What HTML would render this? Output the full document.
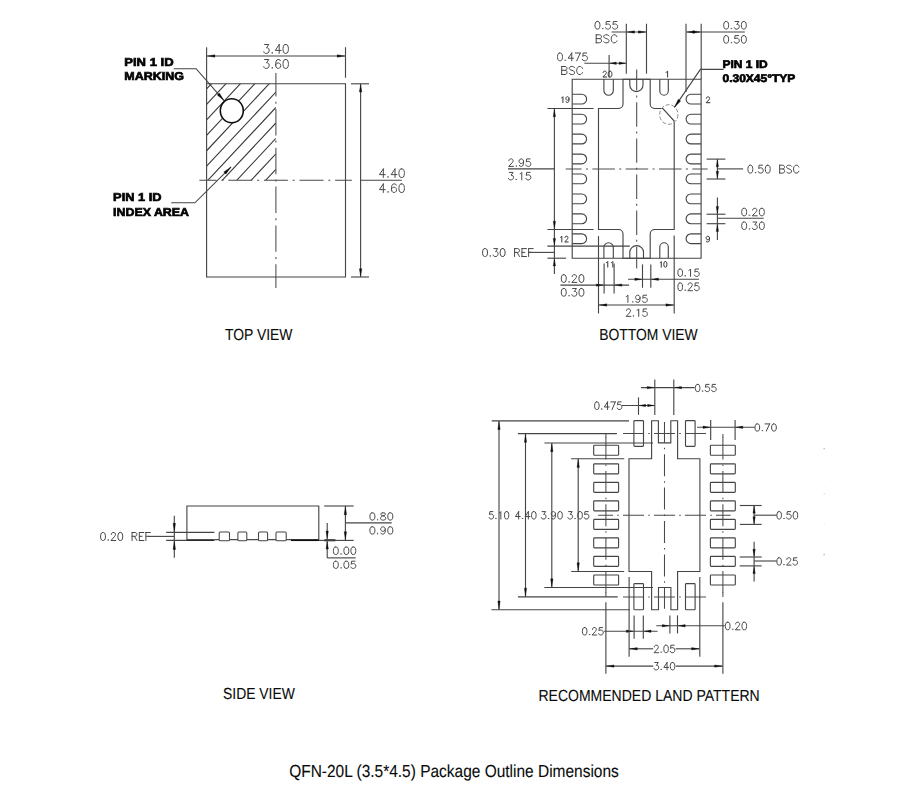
<!DOCTYPE html>
<html><head><meta charset="utf-8"><title>QFN-20L (3.5*4.5) Package Outline Dimensions</title>
<style>
html,body{margin:0;padding:0;background:#fff;}
body{width:902px;height:809px;overflow:hidden;font-family:"Liberation Sans",sans-serif;}
svg{display:block;}
.l{fill:none;stroke:#444;stroke-width:1.12;}
.c{fill:none;stroke:#4a4a4a;stroke-width:1.05;}
.g{fill:none;stroke:#999;stroke-width:0.9;}
.k{fill:none;stroke:#111;stroke-width:1.9;}
.h{fill:none;stroke:#3a3a3a;stroke-width:1.1;}
.a{fill:#111;stroke:#111;stroke-width:0.3;}
.t{fill:none;stroke:#474747;stroke-width:1.0;stroke-linecap:round;stroke-linejoin:round;}
.ts{fill:none;stroke:#333;stroke-width:1.0;stroke-linecap:round;stroke-linejoin:round;}
.b{text-rendering:geometricPrecision;font-family:"Liberation Sans",sans-serif;font-weight:bold;font-size:11.4px;fill:#000;stroke:#000;stroke-width:0.66;}
.v{text-rendering:geometricPrecision;font-family:"Liberation Sans",sans-serif;font-size:16px;fill:#0a0a0a;stroke:#0a0a0a;stroke-width:0.1;}
.cap{text-rendering:geometricPrecision;font-family:"Liberation Sans",sans-serif;font-size:17.4px;fill:#0a0a0a;stroke:#0a0a0a;stroke-width:0.1;}
</style></head>
<body>
<svg width="902" height="809" viewBox="0 0 902 809">
<rect x="0" y="0" width="902" height="809" fill="#fff"/>
<filter id="soft" x="0" y="0" width="902" height="809" filterUnits="userSpaceOnUse"><feGaussianBlur stdDeviation="0.38"/></filter>
<g filter="url(#soft)">
<!-- TOP VIEW -->
<clipPath id="hc"><rect x="206.60" y="83.80" width="69.30" height="96.50"/></clipPath>
<path class="h" clip-path="url(#hc)" d="M206.60 88.95L275.90 14.80M206.60 104.40L275.90 30.25M206.60 119.85L275.90 45.70M206.60 135.30L275.90 61.15M206.60 150.75L275.90 76.60M206.60 166.20L275.90 92.05M206.60 181.65L275.90 107.50M206.60 197.10L275.90 122.95M206.60 212.55L275.90 138.40M206.60 228.00L275.90 153.85M206.60 243.45L275.90 169.30M206.60 258.90L275.90 184.75"/>
<path class="l" d="M206.60 83.80H345.50V277.00H206.60Z"/>
<ellipse cx="231.8" cy="110.7" rx="11.5" ry="12.0" fill="#fff" stroke="#111" stroke-width="1.6"/>
<path class="l" d="M206.60 47.20L206.60 83.80"/>
<path class="l" d="M345.50 47.20L345.50 77.80"/>
<path class="l" d="M206.60 56.00L345.50 56.00"/>
<path class="a" d="M207.50 56.00L214.90 54.70L214.90 57.30Z"/>
<path class="a" d="M344.60 56.00L337.20 57.30L337.20 54.70Z"/>
<path class="t" d="M264.57 44.50L268.80 44.50L266.49 47.89L267.64 47.89L268.41 48.31L268.80 48.74L269.18 50.01L269.18 50.86L268.80 52.13L268.03 52.98L266.87 53.40L265.72 53.40L264.57 52.98L264.18 52.55L263.80 51.70M272.26 52.55L271.87 52.98L272.26 53.40L272.64 52.98L272.26 52.55M279.18 44.50L275.33 50.43L281.10 50.43M279.18 44.50L279.18 53.40M285.33 44.50L284.17 44.92L283.40 46.20L283.02 48.31L283.02 49.59L283.40 51.70L284.17 52.98L285.33 53.40L286.09 53.40L287.25 52.98L288.02 51.70L288.40 49.59L288.40 48.31L288.02 46.20L287.25 44.92L286.09 44.50L285.33 44.50"/>
<path class="t" d="M264.57 59.50L268.80 59.50L266.49 62.89L267.64 62.89L268.41 63.31L268.80 63.74L269.18 65.01L269.18 65.86L268.80 67.13L268.03 67.98L266.87 68.40L265.72 68.40L264.57 67.98L264.18 67.55L263.80 66.70M272.26 67.55L271.87 67.98L272.26 68.40L272.64 67.98L272.26 67.55M280.33 60.77L279.94 59.92L278.79 59.50L278.02 59.50L276.87 59.92L276.10 61.20L275.72 63.31L275.72 65.43L276.10 67.13L276.87 67.98L278.02 68.40L278.41 68.40L279.56 67.98L280.33 67.13L280.71 65.86L280.71 65.43L280.33 64.16L279.56 63.31L278.41 62.89L278.02 62.89L276.87 63.31L276.10 64.16L275.72 65.43M285.33 59.50L284.17 59.92L283.40 61.20L283.02 63.31L283.02 64.59L283.40 66.70L284.17 67.98L285.33 68.40L286.09 68.40L287.25 67.98L288.02 66.70L288.40 64.59L288.40 63.31L288.02 61.20L287.25 59.92L286.09 59.50L285.33 59.50"/>
<path class="c" d="M275.90 73.00L275.90 96.60M275.90 101.80L275.90 103.80M275.90 109.00L275.90 135.40M275.90 140.60L275.90 142.60M275.90 147.80L275.90 174.20M275.90 179.40L275.90 181.40M275.90 186.60L275.90 213.00M275.90 218.20L275.90 220.20M275.90 225.40L275.90 251.80M275.90 257.00L275.90 259.00M275.90 264.20L275.90 288.00"/>
<path class="c" d="M199.40 180.30L216.70 180.30M221.50 180.30L223.50 180.30M228.30 180.30L252.30 180.30M257.10 180.30L259.10 180.30M263.90 180.30L287.90 180.30M292.70 180.30L294.70 180.30M299.50 180.30L323.50 180.30M328.30 180.30L330.30 180.30M335.10 180.30L351.90 180.30"/>
<path class="l" d="M351.00 83.80L369.00 83.80"/>
<path class="l" d="M351.00 277.00L369.00 277.00"/>
<path class="l" d="M360.60 83.80L360.60 277.00"/>
<path class="a" d="M360.60 84.70L361.90 92.10L359.30 92.10Z"/>
<path class="a" d="M360.60 276.10L359.30 268.70L361.90 268.70Z"/>
<path class="l" d="M360.60 180.30L401.80 180.30"/>
<path class="t" d="M383.31 168.90L379.40 174.63L385.26 174.63M383.31 168.90L383.31 177.50M387.99 176.68L387.60 177.09L387.99 177.50L388.38 177.09L387.99 176.68M395.03 168.90L391.12 174.63L396.98 174.63M395.03 168.90L395.03 177.50M401.28 168.90L400.10 169.31L399.32 170.54L398.93 172.59L398.93 173.81L399.32 175.86L400.10 177.09L401.28 177.50L402.06 177.50L403.23 177.09L404.01 175.86L404.40 173.81L404.40 172.59L404.01 170.54L403.23 169.31L402.06 168.90L401.28 168.90"/>
<path class="t" d="M383.31 183.90L379.40 189.63L385.26 189.63M383.31 183.90L383.31 192.50M387.99 191.68L387.60 192.09L387.99 192.50L388.38 192.09L387.99 191.68M396.20 185.13L395.81 184.31L394.63 183.90L393.85 183.90L392.68 184.31L391.90 185.54L391.51 187.59L391.51 189.63L391.90 191.27L392.68 192.09L393.85 192.50L394.24 192.50L395.42 192.09L396.20 191.27L396.59 190.04L396.59 189.63L396.20 188.40L395.42 187.59L394.24 187.18L393.85 187.18L392.68 187.59L391.90 188.40L391.51 189.63M401.28 183.90L400.10 184.31L399.32 185.54L398.93 187.59L398.93 188.81L399.32 190.86L400.10 192.09L401.28 192.50L402.06 192.50L403.23 192.09L404.01 190.86L404.40 188.81L404.40 187.59L404.01 185.54L403.23 184.31L402.06 183.90L401.28 183.90"/>
<path class="l" d="M173.7 68.7H196.1L224.1 100.7"/>
<path class="a" d="M223.77 100.32L217.11 94.99L219.37 93.01Z"/>
<path class="l" d="M171.2 202.8H194.9L231.1 166.8"/>
<path class="a" d="M230.75 167.15L225.85 174.14L223.73 172.01Z"/>
<text class="b" x="124.3" y="66.2" textLength="49.3" lengthAdjust="spacingAndGlyphs">PIN 1 ID</text>
<text class="b" x="124.3" y="80.1" textLength="59.6" lengthAdjust="spacingAndGlyphs">MARKING</text>
<text class="b" x="113.1" y="201.0" textLength="48.5" lengthAdjust="spacingAndGlyphs">PIN 1 ID</text>
<text class="b" x="113.1" y="216.0" textLength="75.9" lengthAdjust="spacingAndGlyphs">INDEX AREA</text>
<!-- BOTTOM VIEW -->
<path class="l" d="M572.20 79.30H701.10V258.20H572.20Z"/>
<path class="l" d="M598.50 108.50H618.60A4.40 4.40 0 0 0 623.00 104.10V79.30H650.20V104.10A4.40 4.40 0 0 0 654.60 108.50H662.9L674.20 121.0V229.50H654.60A4.40 4.40 0 0 0 650.20 233.90V258.20H623.00V233.90A4.40 4.40 0 0 0 618.60 229.50H598.50Z"/>
<path class="l" d="M629.8 79.30V85.0A6.6 6.6 0 0 0 643.0 85.0V79.30"/>
<path class="l" d="M629.8 258.20V252.3A6.85 6.7 0 0 1 643.5 252.3V258.20"/>
<path class="l" d="M603.90 79.30V90.50A4.70 4.70 0 0 0 613.30 90.50V79.30"/>
<path class="l" d="M603.90 258.20V247.50A4.70 4.70 0 0 1 613.30 247.50V258.20"/>
<path class="l" d="M659.80 79.30V90.95A4.25 4.25 0 0 0 668.30 90.95V79.30"/>
<path class="l" d="M659.80 258.20V247.05A4.25 4.25 0 0 1 668.30 247.05V258.20"/>
<path class="l" d="M572.20 94.25H581.70A4.90 4.90 0 0 1 581.70 104.05H572.20"/>
<path class="l" d="M701.10 94.25H691.00A4.90 4.90 0 0 0 691.00 104.05H701.10"/>
<path class="l" d="M572.20 114.19H581.70A4.90 4.90 0 0 1 581.70 123.99H572.20"/>
<path class="l" d="M701.10 114.19H691.00A4.90 4.90 0 0 0 691.00 123.99H701.10"/>
<path class="l" d="M572.20 134.13H581.70A4.90 4.90 0 0 1 581.70 143.93H572.20"/>
<path class="l" d="M701.10 134.13H691.00A4.90 4.90 0 0 0 691.00 143.93H701.10"/>
<path class="l" d="M572.20 154.07H581.70A4.90 4.90 0 0 1 581.70 163.87H572.20"/>
<path class="l" d="M701.10 154.07H691.00A4.90 4.90 0 0 0 691.00 163.87H701.10"/>
<path class="l" d="M572.20 174.01H581.70A4.90 4.90 0 0 1 581.70 183.81H572.20"/>
<path class="l" d="M701.10 174.01H691.00A4.90 4.90 0 0 0 691.00 183.81H701.10"/>
<path class="l" d="M572.20 193.95H581.70A4.90 4.90 0 0 1 581.70 203.75H572.20"/>
<path class="l" d="M701.10 193.95H691.00A4.90 4.90 0 0 0 691.00 203.75H701.10"/>
<path class="l" d="M572.20 213.89H581.70A4.90 4.90 0 0 1 581.70 223.69H572.20"/>
<path class="l" d="M701.10 213.89H691.00A4.90 4.90 0 0 0 691.00 223.69H701.10"/>
<path class="l" d="M572.20 233.83H581.70A4.90 4.90 0 0 1 581.70 243.63H572.20"/>
<path class="l" d="M701.10 233.83H691.00A4.90 4.90 0 0 0 691.00 243.63H701.10"/>
<ellipse cx="668.8" cy="114.5" rx="9.2" ry="9.8" fill="none" stroke="#8a8a8a" stroke-width="1.0" stroke-dasharray="4.0 1.9"/>
<path class="c" d="M636.70 69.40L636.70 90.60M636.70 95.45L636.70 97.45M636.70 102.30L636.70 126.70M636.70 131.55L636.70 133.55M636.70 138.40L636.70 162.80M636.70 167.65L636.70 169.65M636.70 174.50L636.70 198.90M636.70 203.75L636.70 205.75M636.70 210.60L636.70 235.00M636.70 239.85L636.70 241.85M636.70 246.70L636.70 268.60"/>
<path class="c" d="M565.70 168.90L581.60 168.90M586.00 168.90L588.00 168.90M592.40 168.90L614.90 168.90M619.30 168.90L621.30 168.90M625.70 168.90L648.20 168.90M652.60 168.90L654.60 168.90M659.00 168.90L681.50 168.90M685.90 168.90L687.90 168.90M692.30 168.90L707.70 168.90"/>
<path class="ts" d="M603.16 72.58L603.16 72.30L603.43 71.75L603.69 71.48L604.22 71.20L605.28 71.20L605.81 71.48L606.08 71.75L606.34 72.30L606.34 72.86L606.08 73.41L605.55 74.24L602.90 77.00L606.61 77.00M609.78 71.20L608.99 71.48L608.46 72.30L608.19 73.69L608.19 74.51L608.46 75.90L608.99 76.72L609.78 77.00L610.31 77.00L611.11 76.72L611.64 75.90L611.90 74.51L611.90 73.69L611.64 72.30L611.11 71.48L610.31 71.20L609.78 71.20"/>
<path class="ts" d="M666.00 72.30L666.64 72.03L667.60 71.20L667.60 77.00"/>
<path class="ts" d="M561.70 97.80L562.19 97.53L562.92 96.70L562.92 102.50M569.00 98.63L568.76 99.46L568.27 100.01L567.54 100.29L567.30 100.29L566.57 100.01L566.08 99.46L565.84 98.63L565.84 98.36L566.08 97.53L566.57 96.98L567.30 96.70L567.54 96.70L568.27 96.98L568.76 97.53L569.00 98.63L569.00 100.01L568.76 101.40L568.27 102.22L567.54 102.50L567.05 102.50L566.32 102.22L566.08 101.67"/>
<path class="ts" d="M706.37 98.28L706.37 98.00L706.64 97.45L706.91 97.18L707.46 96.90L708.54 96.90L709.09 97.18L709.36 97.45L709.63 98.00L709.63 98.56L709.36 99.11L708.81 99.94L706.10 102.70L709.90 102.70"/>
<path class="ts" d="M560.60 237.30L561.09 237.03L561.83 236.20L561.83 242.00M565.01 237.58L565.01 237.30L565.26 236.75L565.50 236.48L565.99 236.20L566.97 236.20L567.46 236.48L567.71 236.75L567.95 237.30L567.95 237.86L567.71 238.41L567.22 239.24L564.77 242.00L568.20 242.00"/>
<path class="ts" d="M709.50 238.13L709.24 238.96L708.72 239.51L707.93 239.79L707.67 239.79L706.88 239.51L706.36 238.96L706.10 238.13L706.10 237.86L706.36 237.03L706.88 236.48L707.67 236.20L707.93 236.20L708.72 236.48L709.24 237.03L709.50 238.13L709.50 239.51L709.24 240.90L708.72 241.72L707.93 242.00L707.41 242.00L706.62 241.72L706.36 241.17"/>
<path class="ts" d="M606.50 262.57L607.00 262.30L607.76 261.50L607.76 267.10M611.54 262.57L612.04 262.30L612.80 261.50L612.80 267.10"/>
<path class="ts" d="M660.20 262.67L660.63 262.40L661.28 261.60L661.28 267.20M665.17 261.60L664.52 261.87L664.09 262.67L663.87 264.00L663.87 264.80L664.09 266.13L664.52 266.93L665.17 267.20L665.60 267.20L666.25 266.93L666.68 266.13L666.90 264.80L666.90 264.00L666.68 262.67L666.25 261.87L665.60 261.60L665.17 261.60"/>
<path class="l" d="M626.30 23.70L626.30 73.70"/>
<path class="l" d="M646.50 23.70L646.50 73.70"/>
<path class="l" d="M611.60 32.00L646.50 32.00"/>
<path class="a" d="M627.10 32.00L634.50 30.80L634.50 33.20Z"/>
<path class="a" d="M645.70 32.00L638.30 33.20L638.30 30.80Z"/>
<path class="t" d="M597.12 21.50L596.06 21.86L595.35 22.95L595.00 24.76L595.00 25.84L595.35 27.65L596.06 28.74L597.12 29.10L597.83 29.10L598.88 28.74L599.59 27.65L599.94 25.84L599.94 24.76L599.59 22.95L598.88 21.86L597.83 21.50L597.12 21.50M602.77 28.38L602.42 28.74L602.77 29.10L603.12 28.74L602.77 28.38M609.83 21.50L606.30 21.50L605.95 24.76L606.30 24.40L607.36 24.03L608.42 24.03L609.48 24.40L610.18 25.12L610.54 26.20L610.54 26.93L610.18 28.01L609.48 28.74L608.42 29.10L607.36 29.10L606.30 28.74L605.95 28.38L605.59 27.65M616.89 21.50L613.36 21.50L613.01 24.76L613.36 24.40L614.42 24.03L615.48 24.03L616.54 24.40L617.25 25.12L617.60 26.20L617.60 26.93L617.25 28.01L616.54 28.74L615.48 29.10L614.42 29.10L613.36 28.74L613.01 28.38L612.66 27.65"/>
<path class="t" d="M596.20 34.80L596.20 42.80M596.20 34.80L599.59 34.80L600.72 35.18L601.09 35.56L601.47 36.32L601.47 37.09L601.09 37.85L600.72 38.23L599.59 38.61M596.20 38.61L599.59 38.61L600.72 38.99L601.09 39.37L601.47 40.13L601.47 41.28L601.09 42.04L600.72 42.42L599.59 42.80L596.20 42.80M609.00 35.94L608.24 35.18L607.11 34.80L605.61 34.80L604.48 35.18L603.73 35.94L603.73 36.70L604.10 37.47L604.48 37.85L605.23 38.23L607.49 38.99L608.24 39.37L608.62 39.75L609.00 40.51L609.00 41.66L608.24 42.42L607.11 42.80L605.61 42.80L604.48 42.42L603.73 41.66M616.90 36.70L616.52 35.94L615.77 35.18L615.02 34.80L613.51 34.80L612.76 35.18L612.01 35.94L611.63 36.70L611.25 37.85L611.25 39.75L611.63 40.90L612.01 41.66L612.76 42.42L613.51 42.80L615.02 42.80L615.77 42.42L616.52 41.66L616.90 40.90"/>
<path class="l" d="M609.10 55.00L609.10 77.40"/>
<path class="l" d="M584.40 63.20L626.30 63.20"/>
<path class="a" d="M609.90 63.20L616.30 62.00L616.30 64.40Z"/>
<path class="a" d="M625.50 63.20L619.10 64.40L619.10 62.00Z"/>
<path class="t" d="M559.64 53.00L558.57 53.37L557.86 54.49L557.50 56.34L557.50 57.46L557.86 59.31L558.57 60.43L559.64 60.80L560.35 60.80L561.42 60.43L562.13 59.31L562.48 57.46L562.48 56.34L562.13 54.49L561.42 53.37L560.35 53.00L559.64 53.00M565.33 60.06L564.98 60.43L565.33 60.80L565.69 60.43L565.33 60.06M571.74 53.00L568.18 58.20L573.52 58.20M571.74 53.00L571.74 60.80M580.28 53.00L576.72 60.80M575.30 53.00L580.28 53.00M586.69 53.00L583.13 53.00L582.77 56.34L583.13 55.97L584.20 55.60L585.26 55.60L586.33 55.97L587.04 56.71L587.40 57.83L587.40 58.57L587.04 59.69L586.33 60.43L585.26 60.80L584.20 60.80L583.13 60.43L582.77 60.06L582.42 59.31"/>
<path class="t" d="M561.70 66.50L561.70 74.50M561.70 66.50L565.09 66.50L566.22 66.88L566.59 67.26L566.97 68.02L566.97 68.79L566.59 69.55L566.22 69.93L565.09 70.31M561.70 70.31L565.09 70.31L566.22 70.69L566.59 71.07L566.97 71.83L566.97 72.98L566.59 73.74L566.22 74.12L565.09 74.50L561.70 74.50M574.50 67.64L573.74 66.88L572.61 66.50L571.11 66.50L569.98 66.88L569.23 67.64L569.23 68.40L569.60 69.17L569.98 69.55L570.73 69.93L572.99 70.69L573.74 71.07L574.12 71.45L574.50 72.21L574.50 73.36L573.74 74.12L572.61 74.50L571.11 74.50L569.98 74.12L569.23 73.36M582.40 68.40L582.02 67.64L581.27 66.88L580.52 66.50L579.01 66.50L578.26 66.88L577.51 67.64L577.13 68.40L576.75 69.55L576.75 71.45L577.13 72.60L577.51 73.36L578.26 74.12L579.01 74.50L580.52 74.50L581.27 74.12L582.02 73.36L582.40 72.60"/>
<path class="l" d="M686.00 23.70L686.00 92.00"/>
<path class="l" d="M701.20 23.70L701.20 79.30"/>
<path class="l" d="M686.20 32.00L744.80 32.00"/>
<path class="a" d="M687.00 32.00L694.40 30.80L694.40 33.20Z"/>
<path class="a" d="M700.40 32.00L693.00 33.20L693.00 30.80Z"/>
<path class="t" d="M725.82 21.50L724.76 21.86L724.05 22.95L723.70 24.76L723.70 25.84L724.05 27.65L724.76 28.74L725.82 29.10L726.52 29.10L727.58 28.74L728.29 27.65L728.64 25.84L728.64 24.76L728.29 22.95L727.58 21.86L726.52 21.50L725.82 21.50M731.47 28.38L731.12 28.74L731.47 29.10L731.82 28.74L731.47 28.38M735.00 21.50L738.88 21.50L736.77 24.40L737.83 24.40L738.53 24.76L738.88 25.12L739.24 26.20L739.24 26.93L738.88 28.01L738.18 28.74L737.12 29.10L736.06 29.10L735.00 28.74L734.65 28.38L734.29 27.65M743.48 21.50L742.42 21.86L741.71 22.95L741.36 24.76L741.36 25.84L741.71 27.65L742.42 28.74L743.48 29.10L744.18 29.10L745.24 28.74L745.95 27.65L746.30 25.84L746.30 24.76L745.95 22.95L745.24 21.86L744.18 21.50L743.48 21.50"/>
<path class="t" d="M725.82 35.60L724.76 35.96L724.05 37.05L723.70 38.86L723.70 39.94L724.05 41.75L724.76 42.84L725.82 43.20L726.52 43.20L727.58 42.84L728.29 41.75L728.64 39.94L728.64 38.86L728.29 37.05L727.58 35.96L726.52 35.60L725.82 35.60M731.47 42.48L731.12 42.84L731.47 43.20L731.82 42.84L731.47 42.48M738.53 35.60L735.00 35.60L734.65 38.86L735.00 38.50L736.06 38.13L737.12 38.13L738.18 38.50L738.88 39.22L739.24 40.30L739.24 41.03L738.88 42.11L738.18 42.84L737.12 43.20L736.06 43.20L735.00 42.84L734.65 42.48L734.29 41.75M743.48 35.60L742.42 35.96L741.71 37.05L741.36 38.86L741.36 39.94L741.71 41.75L742.42 42.84L743.48 43.20L744.18 43.20L745.24 42.84L745.95 41.75L746.30 39.94L746.30 38.86L745.95 37.05L745.24 35.96L744.18 35.60L743.48 35.60"/>
<path class="l" d="M723.6 69.4H700.4L674.4 107.4"/>
<path class="a" d="M674.68 106.99L678.19 99.21L680.66 100.90Z"/>
<text class="b" style="font-size:11px" x="722.5" y="67.9" textLength="45.2" lengthAdjust="spacingAndGlyphs">PIN 1 ID</text>
<text class="b" style="font-size:11px" x="722.5" y="81.9" textLength="72.8" lengthAdjust="spacingAndGlyphs">0.30X45&#176;TYP</text>
<path class="l" d="M547.40 108.50L593.60 108.50"/>
<path class="l" d="M547.40 229.50L593.60 229.50"/>
<path class="l" d="M554.40 108.50L554.40 274.00"/>
<path class="a" d="M554.40 109.40L555.60 116.80L553.20 116.80Z"/>
<path class="a" d="M554.40 228.60L553.20 221.20L555.60 221.20Z"/>
<path class="l" d="M508.00 168.90L554.40 168.90"/>
<path class="t" d="M508.95 160.69L508.95 160.33L509.29 159.61L509.64 159.26L510.33 158.90L511.72 158.90L512.42 159.26L512.76 159.61L513.11 160.33L513.11 161.04L512.76 161.76L512.07 162.83L508.60 166.40L513.46 166.40M516.23 165.69L515.88 166.04L516.23 166.40L516.58 166.04L516.23 165.69M523.52 161.40L523.17 162.47L522.48 163.19L521.43 163.54L521.09 163.54L520.05 163.19L519.35 162.47L519.01 161.40L519.01 161.04L519.35 159.97L520.05 159.26L521.09 158.90L521.43 158.90L522.48 159.26L523.17 159.97L523.52 161.40L523.52 163.19L523.17 164.97L522.48 166.04L521.43 166.40L520.74 166.40L519.70 166.04L519.35 165.33M530.11 158.90L526.64 158.90L526.29 162.11L526.64 161.76L527.68 161.40L528.72 161.40L529.76 161.76L530.45 162.47L530.80 163.54L530.80 164.26L530.45 165.33L529.76 166.04L528.72 166.40L527.68 166.40L526.64 166.04L526.29 165.69L525.94 164.97"/>
<path class="t" d="M509.29 172.40L513.11 172.40L511.03 175.26L512.07 175.26L512.76 175.61L513.11 175.97L513.46 177.04L513.46 177.76L513.11 178.83L512.42 179.54L511.38 179.90L510.33 179.90L509.29 179.54L508.95 179.19L508.60 178.47M516.23 179.19L515.88 179.54L516.23 179.90L516.58 179.54L516.23 179.19M520.05 173.83L520.74 173.47L521.78 172.40L521.78 179.90M530.11 172.40L526.64 172.40L526.29 175.61L526.64 175.26L527.68 174.90L528.72 174.90L529.76 175.26L530.45 175.97L530.80 177.04L530.80 177.76L530.45 178.83L529.76 179.54L528.72 179.90L527.68 179.90L526.64 179.54L526.29 179.19L525.94 178.47"/>
<path class="l" d="M547.40 246.10L629.80 246.10"/>
<path class="l" d="M547.40 258.20L566.10 258.20"/>
<path class="a" d="M554.40 245.30L553.20 238.40L555.60 238.40Z"/>
<path class="a" d="M554.40 259.00L555.60 265.90L553.20 265.90Z"/>
<path class="l" d="M528.70 252.40L554.40 252.40"/>
<path class="t" d="M484.71 248.60L483.65 248.98L482.95 250.10L482.60 251.99L482.60 253.11L482.95 255.00L483.65 256.12L484.71 256.50L485.41 256.50L486.47 256.12L487.17 255.00L487.52 253.11L487.52 251.99L487.17 250.10L486.47 248.98L485.41 248.60L484.71 248.60M490.33 255.75L489.98 256.12L490.33 256.50L490.68 256.12L490.33 255.75M493.84 248.60L497.71 248.60L495.60 251.61L496.66 251.61L497.36 251.99L497.71 252.36L498.06 253.49L498.06 254.24L497.71 255.37L497.01 256.12L495.95 256.50L494.90 256.50L493.84 256.12L493.49 255.75L493.14 255.00M502.28 248.60L501.22 248.98L500.52 250.10L500.17 251.99L500.17 253.11L500.52 255.00L501.22 256.12L502.28 256.50L502.98 256.50L504.03 256.12L504.74 255.00L505.09 253.11L505.09 251.99L504.74 250.10L504.03 248.98L502.98 248.60L502.28 248.60M514.58 248.60L514.58 256.50M514.58 248.60L517.74 248.60L518.79 248.98L519.14 249.35L519.50 250.10L519.50 250.86L519.14 251.61L518.79 251.99L517.74 252.36L514.58 252.36M517.04 252.36L519.50 256.50M521.96 248.60L521.96 256.50M521.96 248.60L526.52 248.60M521.96 252.36L524.77 252.36M521.96 256.50L526.52 256.50M528.63 248.60L528.63 256.50M528.63 248.60L533.20 248.60M528.63 252.36L531.44 252.36"/>
<path class="l" d="M706.60 159.10L725.40 159.10"/>
<path class="l" d="M706.60 179.00L725.40 179.00"/>
<path class="l" d="M717.40 159.10L717.40 179.00"/>
<path class="a" d="M717.40 159.90L718.60 166.80L716.20 166.80Z"/>
<path class="a" d="M717.40 178.20L716.20 171.30L718.60 171.30Z"/>
<path class="l" d="M717.40 168.90L743.10 168.90"/>
<path class="t" d="M749.99 165.20L748.95 165.58L748.25 166.70L747.90 168.59L747.90 169.71L748.25 171.60L748.95 172.72L749.99 173.10L750.69 173.10L751.73 172.72L752.43 171.60L752.78 169.71L752.78 168.59L752.43 166.70L751.73 165.58L750.69 165.20L749.99 165.20M755.57 172.35L755.22 172.72L755.57 173.10L755.92 172.72L755.57 172.35M762.54 165.20L759.06 165.20L758.71 168.59L759.06 168.21L760.10 167.83L761.15 167.83L762.19 168.21L762.89 168.96L763.24 170.09L763.24 170.84L762.89 171.97L762.19 172.72L761.15 173.10L760.10 173.10L759.06 172.72L758.71 172.35L758.36 171.60M767.42 165.20L766.38 165.58L765.68 166.70L765.33 168.59L765.33 169.71L765.68 171.60L766.38 172.72L767.42 173.10L768.12 173.10L769.17 172.72L769.86 171.60L770.21 169.71L770.21 168.59L769.86 166.70L769.17 165.58L768.12 165.20L767.42 165.20M779.63 165.20L779.63 173.10M779.63 165.20L782.76 165.20L783.81 165.58L784.16 165.95L784.51 166.70L784.51 167.46L784.16 168.21L783.81 168.59L782.76 168.96M779.63 168.96L782.76 168.96L783.81 169.34L784.16 169.71L784.51 170.47L784.51 171.60L784.16 172.35L783.81 172.72L782.76 173.10L779.63 173.10M791.48 166.33L790.78 165.58L789.74 165.20L788.34 165.20L787.30 165.58L786.60 166.33L786.60 167.08L786.95 167.83L787.30 168.21L787.99 168.59L790.08 169.34L790.78 169.71L791.13 170.09L791.48 170.84L791.48 171.97L790.78 172.72L789.74 173.10L788.34 173.10L787.30 172.72L786.60 171.97M798.80 167.08L798.45 166.33L797.75 165.58L797.06 165.20L795.66 165.20L794.97 165.58L794.27 166.33L793.92 167.08L793.57 168.21L793.57 170.09L793.92 171.22L794.27 171.97L794.97 172.72L795.66 173.10L797.06 173.10L797.75 172.72L798.45 171.97L798.80 171.22"/>
<path class="l" d="M706.60 214.20L725.40 214.20"/>
<path class="l" d="M706.60 223.70L725.40 223.70"/>
<path class="l" d="M717.40 197.40L717.40 239.90"/>
<path class="a" d="M717.40 213.40L716.20 206.50L718.60 206.50Z"/>
<path class="a" d="M717.40 224.50L718.60 231.40L716.20 231.40Z"/>
<path class="l" d="M717.40 218.20L763.60 218.20"/>
<path class="t" d="M743.82 208.30L742.76 208.66L742.05 209.73L741.70 211.51L741.70 212.59L742.05 214.37L742.76 215.44L743.82 215.80L744.52 215.80L745.58 215.44L746.29 214.37L746.64 212.59L746.64 211.51L746.29 209.73L745.58 208.66L744.52 208.30L743.82 208.30M749.47 215.09L749.12 215.44L749.47 215.80L749.82 215.44L749.47 215.09M752.65 210.09L752.65 209.73L753.00 209.01L753.35 208.66L754.06 208.30L755.47 208.30L756.18 208.66L756.53 209.01L756.88 209.73L756.88 210.44L756.53 211.16L755.83 212.23L752.29 215.80L757.24 215.80M761.48 208.30L760.42 208.66L759.71 209.73L759.36 211.51L759.36 212.59L759.71 214.37L760.42 215.44L761.48 215.80L762.18 215.80L763.24 215.44L763.95 214.37L764.30 212.59L764.30 211.51L763.95 209.73L763.24 208.66L762.18 208.30L761.48 208.30"/>
<path class="t" d="M743.82 222.00L742.76 222.36L742.05 223.43L741.70 225.21L741.70 226.29L742.05 228.07L742.76 229.14L743.82 229.50L744.52 229.50L745.58 229.14L746.29 228.07L746.64 226.29L746.64 225.21L746.29 223.43L745.58 222.36L744.52 222.00L743.82 222.00M749.47 228.79L749.12 229.14L749.47 229.50L749.82 229.14L749.47 228.79M753.00 222.00L756.88 222.00L754.77 224.86L755.83 224.86L756.53 225.21L756.88 225.57L757.24 226.64L757.24 227.36L756.88 228.43L756.18 229.14L755.12 229.50L754.06 229.50L753.00 229.14L752.65 228.79L752.29 228.07M761.48 222.00L760.42 222.36L759.71 223.43L759.36 225.21L759.36 226.29L759.71 228.07L760.42 229.14L761.48 229.50L762.18 229.50L763.24 229.14L763.95 228.07L764.30 226.29L764.30 225.21L763.95 223.43L763.24 222.36L762.18 222.00L761.48 222.00"/>
<path class="l" d="M598.50 236.10L598.50 313.50"/>
<path class="l" d="M674.20 235.40L674.20 313.50"/>
<path class="l" d="M598.50 305.00L674.20 305.00"/>
<path class="a" d="M599.40 305.00L606.80 303.80L606.80 306.20Z"/>
<path class="a" d="M673.30 305.00L665.90 306.20L665.90 303.80Z"/>
<path class="t" d="M626.20 296.57L626.89 296.23L627.93 295.20L627.93 302.40M632.77 301.71L632.43 302.06L632.77 302.40L633.12 302.06L632.77 301.71M640.04 297.60L639.69 298.63L639.00 299.31L637.96 299.66L637.61 299.66L636.58 299.31L635.89 298.63L635.54 297.60L635.54 297.26L635.89 296.23L636.58 295.54L637.61 295.20L637.96 295.20L639.00 295.54L639.69 296.23L640.04 297.60L640.04 299.31L639.69 301.03L639.00 302.06L637.96 302.40L637.27 302.40L636.23 302.06L635.89 301.37M646.61 295.20L643.15 295.20L642.80 298.29L643.15 297.94L644.19 297.60L645.22 297.60L646.26 297.94L646.95 298.63L647.30 299.66L647.30 300.34L646.95 301.37L646.26 302.06L645.22 302.40L644.19 302.40L643.15 302.06L642.80 301.71L642.46 301.03"/>
<path class="t" d="M626.53 310.69L626.53 310.33L626.86 309.61L627.19 309.26L627.85 308.90L629.17 308.90L629.83 309.26L630.16 309.61L630.49 310.33L630.49 311.04L630.16 311.76L629.50 312.83L626.20 316.40L630.82 316.40M633.45 315.69L633.12 316.04L633.45 316.40L633.78 316.04L633.45 315.69M637.08 310.33L637.74 309.97L638.73 308.90L638.73 316.40M646.64 308.90L643.34 308.90L643.01 312.11L643.34 311.76L644.33 311.40L645.32 311.40L646.31 311.76L646.97 312.47L647.30 313.54L647.30 314.26L646.97 315.33L646.31 316.04L645.32 316.40L644.33 316.40L643.34 316.04L643.01 315.69L642.68 314.97"/>
<path class="l" d="M604.10 263.60L604.10 293.60"/>
<path class="l" d="M614.10 263.60L614.10 293.60"/>
<path class="l" d="M560.40 285.10L629.10 285.10"/>
<path class="a" d="M603.30 285.10L596.40 286.30L596.40 283.90Z"/>
<path class="a" d="M614.90 285.10L621.80 283.90L621.80 286.30Z"/>
<path class="t" d="M563.42 274.70L562.36 275.07L561.65 276.17L561.30 278.00L561.30 279.10L561.65 280.93L562.36 282.03L563.42 282.40L564.12 282.40L565.18 282.03L565.89 280.93L566.24 279.10L566.24 278.00L565.89 276.17L565.18 275.07L564.12 274.70L563.42 274.70M569.07 281.67L568.72 282.03L569.07 282.40L569.42 282.03L569.07 281.67M572.25 276.53L572.25 276.17L572.60 275.43L572.95 275.07L573.66 274.70L575.07 274.70L575.78 275.07L576.13 275.43L576.48 276.17L576.48 276.90L576.13 277.63L575.42 278.73L571.89 282.40L576.84 282.40M581.07 274.70L580.02 275.07L579.31 276.17L578.96 278.00L578.96 279.10L579.31 280.93L580.02 282.03L581.07 282.40L581.78 282.40L582.84 282.03L583.55 280.93L583.90 279.10L583.90 278.00L583.55 276.17L582.84 275.07L581.78 274.70L581.07 274.70"/>
<path class="t" d="M563.42 288.50L562.36 288.87L561.65 289.97L561.30 291.80L561.30 292.90L561.65 294.73L562.36 295.83L563.42 296.20L564.12 296.20L565.18 295.83L565.89 294.73L566.24 292.90L566.24 291.80L565.89 289.97L565.18 288.87L564.12 288.50L563.42 288.50M569.07 295.47L568.72 295.83L569.07 296.20L569.42 295.83L569.07 295.47M572.60 288.50L576.48 288.50L574.37 291.43L575.42 291.43L576.13 291.80L576.48 292.17L576.84 293.27L576.84 294.00L576.48 295.10L575.78 295.83L574.72 296.20L573.66 296.20L572.60 295.83L572.25 295.47L571.89 294.73M581.07 288.50L580.02 288.87L579.31 289.97L578.96 291.80L578.96 292.90L579.31 294.73L580.02 295.83L581.07 296.20L581.78 296.20L582.84 295.83L583.55 294.73L583.90 292.90L583.90 291.80L583.55 289.97L582.84 288.87L581.78 288.50L581.07 288.50"/>
<path class="l" d="M642.50 264.40L642.50 287.80"/>
<path class="l" d="M650.80 264.40L650.80 287.80"/>
<path class="l" d="M628.10 279.30L699.00 279.30"/>
<path class="a" d="M641.70 279.30L634.80 280.50L634.80 278.10Z"/>
<path class="a" d="M651.60 279.30L658.50 278.10L658.50 280.50Z"/>
<path class="t" d="M679.90 269.00L678.90 269.35L678.23 270.41L677.90 272.17L677.90 273.23L678.23 274.99L678.90 276.05L679.90 276.40L680.56 276.40L681.56 276.05L682.23 274.99L682.56 273.23L682.56 272.17L682.23 270.41L681.56 269.35L680.56 269.00L679.90 269.00M685.22 275.70L684.89 276.05L685.22 276.40L685.55 276.05L685.22 275.70M688.88 270.41L689.55 270.06L690.55 269.00L690.55 276.40M698.53 269.00L695.21 269.00L694.87 272.17L695.21 271.82L696.20 271.47L697.20 271.47L698.20 271.82L698.87 272.52L699.20 273.58L699.20 274.29L698.87 275.34L698.20 276.05L697.20 276.40L696.20 276.40L695.21 276.05L694.87 275.70L694.54 274.99"/>
<path class="t" d="M679.90 282.90L678.90 283.27L678.23 284.39L677.90 286.24L677.90 287.36L678.23 289.21L678.90 290.33L679.90 290.70L680.56 290.70L681.56 290.33L682.23 289.21L682.56 287.36L682.56 286.24L682.23 284.39L681.56 283.27L680.56 282.90L679.90 282.90M685.22 289.96L684.89 290.33L685.22 290.70L685.55 290.33L685.22 289.96M688.22 284.76L688.22 284.39L688.55 283.64L688.88 283.27L689.55 282.90L690.88 282.90L691.55 283.27L691.88 283.64L692.21 284.39L692.21 285.13L691.88 285.87L691.21 286.99L687.88 290.70L692.54 290.70M698.53 282.90L695.21 282.90L694.87 286.24L695.21 285.87L696.20 285.50L697.20 285.50L698.20 285.87L698.87 286.61L699.20 287.73L699.20 288.47L698.87 289.59L698.20 290.33L697.20 290.70L696.20 290.70L695.21 290.33L694.87 289.96L694.54 289.21"/>
<!-- SIDE VIEW -->
<path class="l" d="M186.90 540.40V506.00H318.80V540.40"/>
<path class="l" d="M166.20 532.40L214.40 532.40"/>
<path class="l" d="M166.20 540.40L214.40 540.40"/>
<path d="M186.90 540.0H214.4" fill="none" stroke="#222" stroke-width="1.5"/>
<path class="c" d="M214.40 539.60L291.00 539.60"/>
<rect x="219.20" y="531.9" width="10.30" height="8.9" rx="1.1" ry="1.1" fill="#fff" stroke="#444" stroke-width="1.05"/>
<rect x="237.90" y="531.9" width="8.90" height="8.9" rx="1.1" ry="1.1" fill="#fff" stroke="#444" stroke-width="1.05"/>
<rect x="258.50" y="531.9" width="9.10" height="8.9" rx="1.1" ry="1.1" fill="#fff" stroke="#444" stroke-width="1.05"/>
<rect x="276.00" y="531.9" width="10.20" height="8.9" rx="1.1" ry="1.1" fill="#fff" stroke="#444" stroke-width="1.05"/>
<path class="k" d="M291.0 540.1H318.80"/>
<path class="l" d="M318.80 540.40L335.40 540.40"/>
<path class="k" d="M324.5 540.3H335.4"/>
<path class="l" d="M174.30 515.80L174.30 557.70"/>
<path class="a" d="M174.30 531.70L173.05 523.30L175.55 523.30Z"/>
<path class="a" d="M174.30 541.10L175.55 549.50L173.05 549.50Z"/>
<path class="l" d="M147.90 536.40L174.30 536.40"/>
<path class="t" d="M102.68 532.50L101.64 532.88L100.95 534.02L100.60 535.93L100.60 537.07L100.95 538.98L101.64 540.12L102.68 540.50L103.37 540.50L104.40 540.12L105.10 538.98L105.44 537.07L105.44 535.93L105.10 534.02L104.40 532.88L103.37 532.50L102.68 532.50M108.21 539.74L107.86 540.12L108.21 540.50L108.55 540.12L108.21 539.74M111.32 534.40L111.32 534.02L111.67 533.26L112.01 532.88L112.70 532.50L114.09 532.50L114.78 532.88L115.13 533.26L115.47 534.02L115.47 534.79L115.13 535.55L114.43 536.69L110.98 540.50L115.82 540.50M119.97 532.50L118.93 532.88L118.24 534.02L117.89 535.93L117.89 537.07L118.24 538.98L118.93 540.12L119.97 540.50L120.66 540.50L121.70 540.12L122.39 538.98L122.73 537.07L122.73 535.93L122.39 534.02L121.70 532.88L120.66 532.50L119.97 532.50M132.07 532.50L132.07 540.50M132.07 532.50L135.18 532.50L136.22 532.88L136.57 533.26L136.91 534.02L136.91 534.79L136.57 535.55L136.22 535.93L135.18 536.31L132.07 536.31M134.49 536.31L136.91 540.50M139.33 532.50L139.33 540.50M139.33 532.50L143.83 532.50M139.33 536.31L142.10 536.31M139.33 540.50L143.83 540.50M145.90 532.50L145.90 540.50M145.90 532.50L150.40 532.50M145.90 536.31L148.67 536.31"/>
<path class="l" d="M324.20 506.00L353.70 506.00"/>
<path class="l" d="M324.20 540.40L353.70 540.40"/>
<path class="l" d="M345.40 506.00L345.40 540.40"/>
<path class="a" d="M345.40 506.80L346.65 514.70L344.15 514.70Z"/>
<path class="a" d="M345.40 539.60L344.15 531.70L346.65 531.70Z"/>
<path class="l" d="M345.40 522.90L391.70 522.90"/>
<path class="t" d="M372.05 512.80L370.97 513.15L370.26 514.19L369.90 515.93L369.90 516.97L370.26 518.71L370.97 519.75L372.05 520.10L372.76 520.10L373.84 519.75L374.55 518.71L374.91 516.97L374.91 515.93L374.55 514.19L373.84 513.15L372.76 512.80L372.05 512.80M377.77 519.40L377.41 519.75L377.77 520.10L378.13 519.75L377.77 519.40M382.42 512.80L381.35 513.15L380.99 513.84L380.99 514.54L381.35 515.23L382.07 515.58L383.50 515.93L384.57 516.28L385.29 516.97L385.64 517.67L385.64 518.71L385.29 519.40L384.93 519.75L383.85 520.10L382.42 520.10L381.35 519.75L380.99 519.40L380.63 518.71L380.63 517.67L380.99 516.97L381.71 516.28L382.78 515.93L384.21 515.58L384.93 515.23L385.29 514.54L385.29 513.84L384.93 513.15L383.85 512.80L382.42 512.80M389.94 512.80L388.86 513.15L388.15 514.19L387.79 515.93L387.79 516.97L388.15 518.71L388.86 519.75L389.94 520.10L390.65 520.10L391.73 519.75L392.44 518.71L392.80 516.97L392.80 515.93L392.44 514.19L391.73 513.15L390.65 512.80L389.94 512.80"/>
<path class="t" d="M372.05 526.80L370.97 527.15L370.26 528.19L369.90 529.93L369.90 530.97L370.26 532.71L370.97 533.75L372.05 534.10L372.76 534.10L373.84 533.75L374.55 532.71L374.91 530.97L374.91 529.93L374.55 528.19L373.84 527.15L372.76 526.80L372.05 526.80M377.77 533.40L377.41 533.75L377.77 534.10L378.13 533.75L377.77 533.40M385.29 529.23L384.93 530.28L384.21 530.97L383.14 531.32L382.78 531.32L381.71 530.97L380.99 530.28L380.63 529.23L380.63 528.89L380.99 527.84L381.71 527.15L382.78 526.80L383.14 526.80L384.21 527.15L384.93 527.84L385.29 529.23L385.29 530.97L384.93 532.71L384.21 533.75L383.14 534.10L382.42 534.10L381.35 533.75L380.99 533.06M389.94 526.80L388.86 527.15L388.15 528.19L387.79 529.93L387.79 530.97L388.15 532.71L388.86 533.75L389.94 534.10L390.65 534.10L391.73 533.75L392.44 532.71L392.80 530.97L392.80 529.93L392.44 528.19L391.73 527.15L390.65 526.80L389.94 526.80"/>
<path class="l" d="M327.20 522.90L327.20 557.90"/>
<path class="a" d="M327.20 538.40L326.00 531.00L328.40 531.00Z"/>
<path class="a" d="M327.20 541.70L328.40 549.10L326.00 549.10Z"/>
<path class="l" d="M327.20 557.90L355.70 557.90"/>
<path class="t" d="M335.50 547.00L334.45 547.36L333.75 548.43L333.40 550.21L333.40 551.29L333.75 553.07L334.45 554.14L335.50 554.50L336.20 554.50L337.25 554.14L337.95 553.07L338.30 551.29L338.30 550.21L337.95 548.43L337.25 547.36L336.20 547.00L335.50 547.00M341.10 553.79L340.75 554.14L341.10 554.50L341.45 554.14L341.10 553.79M346.00 547.00L344.95 547.36L344.25 548.43L343.90 550.21L343.90 551.29L344.25 553.07L344.95 554.14L346.00 554.50L346.70 554.50L347.75 554.14L348.45 553.07L348.80 551.29L348.80 550.21L348.45 548.43L347.75 547.36L346.70 547.00L346.00 547.00M353.00 547.00L351.95 547.36L351.25 548.43L350.90 550.21L350.90 551.29L351.25 553.07L351.95 554.14L353.00 554.50L353.70 554.50L354.75 554.14L355.45 553.07L355.80 551.29L355.80 550.21L355.45 548.43L354.75 547.36L353.70 547.00L353.00 547.00"/>
<path class="t" d="M335.50 561.20L334.45 561.54L333.75 562.57L333.40 564.29L333.40 565.31L333.75 567.03L334.45 568.06L335.50 568.40L336.20 568.40L337.25 568.06L337.95 567.03L338.30 565.31L338.30 564.29L337.95 562.57L337.25 561.54L336.20 561.20L335.50 561.20M341.10 567.71L340.75 568.06L341.10 568.40L341.45 568.06L341.10 567.71M346.00 561.20L344.95 561.54L344.25 562.57L343.90 564.29L343.90 565.31L344.25 567.03L344.95 568.06L346.00 568.40L346.70 568.40L347.75 568.06L348.45 567.03L348.80 565.31L348.80 564.29L348.45 562.57L347.75 561.54L346.70 561.20L346.00 561.20M355.10 561.20L351.60 561.20L351.25 564.29L351.60 563.94L352.65 563.60L353.70 563.60L354.75 563.94L355.45 564.63L355.80 565.66L355.80 566.34L355.45 567.37L354.75 568.06L353.70 568.40L352.65 568.40L351.60 568.06L351.25 567.71L350.90 567.03"/>
<!-- LAND PATTERN -->
<path class="l" d="M629.00 458.70H651.60V420.70H658.4V442.9H670.8V420.70H677.60V458.70H699.90V571.50H677.60V609.70H670.9V587.5H658.5V609.70H651.60V571.50H629.00Z"/>
<rect class="l" x="633.90" y="420.6" width="9.60" height="25.8" rx="0.8"/>
<rect class="l" x="633.90" y="583.6" width="9.60" height="26.1" rx="0.8"/>
<rect class="l" x="685.50" y="420.6" width="9.60" height="25.8" rx="0.8"/>
<rect class="l" x="685.50" y="583.6" width="9.60" height="26.1" rx="0.8"/>
<rect class="l" x="593.7" y="445.30" width="24.9" height="10.0" rx="0.8"/>
<rect class="l" x="710.4" y="445.30" width="24.9" height="10.0" rx="0.8"/>
<rect class="l" x="593.7" y="463.82" width="24.9" height="10.0" rx="0.8"/>
<rect class="l" x="710.4" y="463.82" width="24.9" height="10.0" rx="0.8"/>
<rect class="l" x="593.7" y="482.34" width="24.9" height="10.0" rx="0.8"/>
<rect class="l" x="710.4" y="482.34" width="24.9" height="10.0" rx="0.8"/>
<rect class="l" x="593.7" y="500.86" width="24.9" height="10.0" rx="0.8"/>
<rect class="l" x="710.4" y="500.86" width="24.9" height="10.0" rx="0.8"/>
<rect class="l" x="593.7" y="519.38" width="24.9" height="10.0" rx="0.8"/>
<rect class="l" x="710.4" y="519.38" width="24.9" height="10.0" rx="0.8"/>
<rect class="l" x="593.7" y="537.90" width="24.9" height="10.0" rx="0.8"/>
<rect class="l" x="710.4" y="537.90" width="24.9" height="10.0" rx="0.8"/>
<rect class="l" x="593.7" y="556.42" width="24.9" height="10.0" rx="0.8"/>
<rect class="l" x="710.4" y="556.42" width="24.9" height="10.0" rx="0.8"/>
<rect class="l" x="593.7" y="574.94" width="24.9" height="10.0" rx="0.8"/>
<rect class="l" x="710.4" y="574.94" width="24.9" height="10.0" rx="0.8"/>
<path class="c" d="M605.90 437.50L605.90 459.50M605.90 464.45L605.90 465.95M605.90 470.90L605.90 492.90M605.90 497.85L605.90 499.35M605.90 504.30L605.90 526.30M605.90 531.25L605.90 532.75M605.90 537.70L605.90 559.70M605.90 564.65L605.90 566.15M605.90 571.10L605.90 593.10"/>
<path class="l" d="M605.90 602.30L605.90 673.80"/>
<path class="c" d="M605.90 433.40L605.90 438.00"/>
<path class="c" d="M605.90 592.50L605.90 596.90"/>
<path class="c" d="M722.90 437.50L722.90 459.50M722.90 464.45L722.90 465.95M722.90 470.90L722.90 492.90M722.90 497.85L722.90 499.35M722.90 504.30L722.90 526.30M722.90 531.25L722.90 532.75M722.90 537.70L722.90 559.70M722.90 564.65L722.90 566.15M722.90 571.10L722.90 593.10"/>
<path class="l" d="M722.90 602.30L722.90 673.80"/>
<path class="c" d="M722.90 434.00L722.90 438.00"/>
<path class="c" d="M722.90 592.50L722.90 596.90"/>
<path class="c" d="M664.50 421.90L664.50 442.80M664.50 447.75L664.50 449.25M664.50 454.20L664.50 476.20M664.50 481.15L664.50 482.65M664.50 487.60L664.50 509.60M664.50 514.55L664.50 516.05M664.50 521.00L664.50 543.00M664.50 547.95L664.50 549.45M664.50 554.40L664.50 576.40M664.50 581.35L664.50 582.85M664.50 587.80L664.50 608.80"/>
<path class="c" d="M598.10 515.30L613.00 515.30M617.25 515.30L618.75 515.30M623.00 515.30L644.00 515.30M648.25 515.30L649.75 515.30M654.00 515.30L675.00 515.30M679.25 515.30L680.75 515.30M685.00 515.30L706.00 515.30M710.25 515.30L711.75 515.30M716.00 515.30L730.70 515.30"/>
<path class="c" d="M623.00 433.40L644.00 433.40M648.25 433.40L649.75 433.40M654.00 433.40L675.00 433.40M679.25 433.40L680.75 433.40M685.00 433.40L706.00 433.40"/>
<path class="c" d="M623.00 596.90L644.00 596.90M648.25 596.90L649.75 596.90M654.00 596.90L675.00 596.90M679.25 596.90L680.75 596.90M685.00 596.90L706.00 596.90"/>
<path class="l" d="M491.70 420.90L629.00 420.90"/>
<path class="l" d="M491.40 609.80L629.70 609.80"/>
<path class="l" d="M499.00 420.90L499.00 609.80"/>
<path class="a" d="M499.00 421.70L500.20 429.60L497.80 429.60Z"/>
<path class="a" d="M499.00 609.00L497.80 601.10L500.20 601.10Z"/>
<path class="l" d="M518.00 433.60L616.90 433.60"/>
<path class="l" d="M517.90 596.90L617.70 596.90"/>
<path class="l" d="M525.50 433.60L525.50 596.90"/>
<path class="a" d="M525.50 434.40L526.70 442.30L524.30 442.30Z"/>
<path class="a" d="M525.50 596.10L524.30 588.20L526.70 588.20Z"/>
<path class="l" d="M544.40 443.00L653.00 443.00"/>
<path class="l" d="M544.30 587.50L653.00 587.50"/>
<path class="l" d="M551.80 443.00L551.80 587.50"/>
<path class="a" d="M551.80 443.80L553.00 451.70L550.60 451.70Z"/>
<path class="a" d="M551.80 586.70L550.60 578.80L553.00 578.80Z"/>
<path class="l" d="M571.10 458.70L624.20 458.70"/>
<path class="l" d="M571.20 571.50L624.10 571.50"/>
<path class="l" d="M578.20 458.70L578.20 571.50"/>
<path class="a" d="M578.20 459.50L579.40 467.40L577.00 467.40Z"/>
<path class="a" d="M578.20 570.70L577.00 562.80L579.40 562.80Z"/>
<path class="t" d="M492.88 511.60L489.81 511.60L489.51 514.77L489.81 514.42L490.73 514.07L491.65 514.07L492.57 514.42L493.18 515.12L493.49 516.18L493.49 516.89L493.18 517.94L492.57 518.65L491.65 519.00L490.73 519.00L489.81 518.65L489.51 518.30L489.20 517.59M495.94 518.30L495.63 518.65L495.94 519.00L496.24 518.65L495.94 518.30M499.31 513.01L499.92 512.66L500.84 511.60L500.84 519.00M506.35 511.60L505.43 511.95L504.82 513.01L504.51 514.77L504.51 515.83L504.82 517.59L505.43 518.65L506.35 519.00L506.96 519.00L507.88 518.65L508.49 517.59L508.80 515.83L508.80 514.77L508.49 513.01L507.88 511.95L506.96 511.60L506.35 511.60"/>
<path class="t" d="M518.63 511.60L515.40 516.53L520.25 516.53M518.63 511.60L518.63 519.00M522.52 518.30L522.19 518.65L522.52 519.00L522.84 518.65L522.52 518.30M528.34 511.60L525.10 516.53L529.95 516.53M528.34 511.60L528.34 519.00M533.51 511.60L532.54 511.95L531.90 513.01L531.57 514.77L531.57 515.83L531.90 517.59L532.54 518.65L533.51 519.00L534.16 519.00L535.13 518.65L535.78 517.59L536.10 515.83L536.10 514.77L535.78 513.01L535.13 511.95L534.16 511.60L533.51 511.60"/>
<path class="t" d="M542.05 511.60L545.65 511.60L543.69 514.42L544.67 514.42L545.32 514.77L545.65 515.12L545.97 516.18L545.97 516.89L545.65 517.94L544.99 518.65L544.01 519.00L543.03 519.00L542.05 518.65L541.73 518.30L541.40 517.59M548.58 518.30L548.26 518.65L548.58 519.00L548.91 518.65L548.58 518.30M555.44 514.07L555.12 515.12L554.46 515.83L553.48 516.18L553.16 516.18L552.18 515.83L551.52 515.12L551.20 514.07L551.20 513.71L551.52 512.66L552.18 511.95L553.16 511.60L553.48 511.60L554.46 511.95L555.12 512.66L555.44 514.07L555.44 515.83L555.12 517.59L554.46 518.65L553.48 519.00L552.83 519.00L551.85 518.65L551.52 517.94M559.69 511.60L558.71 511.95L558.05 513.01L557.73 514.77L557.73 515.83L558.05 517.59L558.71 518.65L559.69 519.00L560.34 519.00L561.32 518.65L561.97 517.59L562.30 515.83L562.30 514.77L561.97 513.01L561.32 511.95L560.34 511.60L559.69 511.60"/>
<path class="t" d="M568.56 511.60L572.17 511.60L570.20 514.42L571.18 514.42L571.84 514.77L572.17 515.12L572.49 516.18L572.49 516.89L572.17 517.94L571.51 518.65L570.52 519.00L569.54 519.00L568.56 518.65L568.23 518.30L567.90 517.59M575.12 518.30L574.79 518.65L575.12 519.00L575.45 518.65L575.12 518.30M579.71 511.60L578.73 511.95L578.07 513.01L577.74 514.77L577.74 515.83L578.07 517.59L578.73 518.65L579.71 519.00L580.37 519.00L581.35 518.65L582.01 517.59L582.34 515.83L582.34 514.77L582.01 513.01L581.35 511.95L580.37 511.60L579.71 511.60M588.24 511.60L584.96 511.60L584.63 514.77L584.96 514.42L585.95 514.07L586.93 514.07L587.92 514.42L588.57 515.12L588.90 516.18L588.90 516.89L588.57 517.94L587.92 518.65L586.93 519.00L585.95 519.00L584.96 518.65L584.63 518.30L584.31 517.59"/>
<path class="l" d="M654.80 379.40L654.80 414.90"/>
<path class="l" d="M673.80 379.40L673.80 414.90"/>
<path class="l" d="M640.90 387.60L694.70 387.60"/>
<path class="a" d="M654.00 387.60L647.10 388.80L647.10 386.40Z"/>
<path class="a" d="M674.60 387.60L681.50 386.40L681.50 388.80Z"/>
<path class="t" d="M697.35 384.40L696.38 384.74L695.73 385.77L695.40 387.49L695.40 388.51L695.73 390.23L696.38 391.26L697.35 391.60L698.00 391.60L698.98 391.26L699.62 390.23L699.95 388.51L699.95 387.49L699.62 385.77L698.98 384.74L698.00 384.40L697.35 384.40M702.55 390.91L702.23 391.26L702.55 391.60L702.88 391.26L702.55 390.91M709.05 384.40L705.80 384.40L705.48 387.49L705.80 387.14L706.77 386.80L707.75 386.80L708.73 387.14L709.38 387.83L709.70 388.86L709.70 389.54L709.38 390.57L708.73 391.26L707.75 391.60L706.77 391.60L705.80 391.26L705.48 390.91L705.15 390.23M715.55 384.40L712.30 384.40L711.98 387.49L712.30 387.14L713.28 386.80L714.25 386.80L715.23 387.14L715.88 387.83L716.20 388.86L716.20 389.54L715.88 390.57L715.23 391.26L714.25 391.60L713.28 391.60L712.30 391.26L711.98 390.91L711.65 390.23"/>
<path class="l" d="M638.50 397.40L638.50 414.90"/>
<path class="l" d="M621.90 405.50L654.80 405.50"/>
<path class="a" d="M639.30 405.50L645.70 404.30L645.70 406.70Z"/>
<path class="a" d="M654.00 405.50L647.60 406.70L647.60 404.30Z"/>
<path class="t" d="M596.54 401.90L595.57 402.26L594.92 403.35L594.60 405.16L594.60 406.24L594.92 408.05L595.57 409.14L596.54 409.50L597.19 409.50L598.16 409.14L598.81 408.05L599.13 406.24L599.13 405.16L598.81 403.35L598.16 402.26L597.19 401.90L596.54 401.90M601.72 408.78L601.40 409.14L601.72 409.50L602.05 409.14L601.72 408.78M607.55 401.90L604.31 406.97L609.17 406.97M607.55 401.90L607.55 409.50M615.32 401.90L612.09 409.50M610.79 401.90L615.32 401.90M621.15 401.90L617.91 401.90L617.59 405.16L617.91 404.80L618.89 404.43L619.86 404.43L620.83 404.80L621.48 405.52L621.80 406.60L621.80 407.33L621.48 408.41L620.83 409.14L619.86 409.50L618.89 409.50L617.91 409.14L617.59 408.78L617.27 408.05"/>
<path class="l" d="M710.70 419.90L710.70 439.90"/>
<path class="l" d="M735.10 419.90L735.10 439.90"/>
<path class="l" d="M697.10 427.30L754.80 427.30"/>
<path class="a" d="M709.90 427.30L703.00 428.50L703.00 426.10Z"/>
<path class="a" d="M735.90 427.30L742.80 426.10L742.80 428.50Z"/>
<path class="t" d="M757.00 423.90L756.00 424.24L755.33 425.27L755.00 426.99L755.00 428.01L755.33 429.73L756.00 430.76L757.00 431.10L757.66 431.10L758.66 430.76L759.33 429.73L759.66 428.01L759.66 426.99L759.33 425.27L758.66 424.24L757.66 423.90L757.00 423.90M762.32 430.41L761.99 430.76L762.32 431.10L762.65 430.76L762.32 430.41M769.64 423.90L766.32 431.10M764.98 423.90L769.64 423.90M773.64 423.90L772.64 424.24L771.97 425.27L771.64 426.99L771.64 428.01L771.97 429.73L772.64 430.76L773.64 431.10L774.30 431.10L775.30 430.76L775.97 429.73L776.30 428.01L776.30 426.99L775.97 425.27L775.30 424.24L774.30 423.90L773.64 423.90"/>
<path class="l" d="M739.80 505.50L761.70 505.50"/>
<path class="l" d="M739.80 524.40L761.70 524.40"/>
<path class="l" d="M754.10 505.50L754.10 524.40"/>
<path class="a" d="M754.10 506.30L755.30 513.20L752.90 513.20Z"/>
<path class="a" d="M754.10 523.60L752.90 516.70L755.30 516.70Z"/>
<path class="l" d="M754.10 515.20L776.70 515.20"/>
<path class="t" d="M778.85 511.60L777.88 511.95L777.23 513.01L776.90 514.77L776.90 515.83L777.23 517.59L777.88 518.65L778.85 519.00L779.50 519.00L780.48 518.65L781.12 517.59L781.45 515.83L781.45 514.77L781.12 513.01L780.48 511.95L779.50 511.60L778.85 511.60M784.05 518.30L783.73 518.65L784.05 519.00L784.38 518.65L784.05 518.30M790.55 511.60L787.30 511.60L786.98 514.77L787.30 514.42L788.27 514.07L789.25 514.07L790.23 514.42L790.88 515.12L791.20 516.18L791.20 516.89L790.88 517.94L790.23 518.65L789.25 519.00L788.27 519.00L787.30 518.65L786.98 518.30L786.65 517.59M795.10 511.60L794.12 511.95L793.48 513.01L793.15 514.77L793.15 515.83L793.48 517.59L794.12 518.65L795.10 519.00L795.75 519.00L796.73 518.65L797.38 517.59L797.70 515.83L797.70 514.77L797.38 513.01L796.73 511.95L795.75 511.60L795.10 511.60"/>
<path class="l" d="M739.70 557.00L761.70 557.00"/>
<path class="l" d="M739.70 565.90L761.70 565.90"/>
<path class="l" d="M754.10 541.80L754.10 581.50"/>
<path class="a" d="M754.10 556.20L752.90 549.30L755.30 549.30Z"/>
<path class="a" d="M754.10 566.70L755.30 573.60L752.90 573.60Z"/>
<path class="l" d="M754.10 561.00L776.70 561.00"/>
<path class="t" d="M778.83 557.80L777.87 558.15L777.22 559.19L776.90 560.93L776.90 561.97L777.22 563.71L777.87 564.75L778.83 565.10L779.48 565.10L780.44 564.75L781.08 563.71L781.41 561.97L781.41 560.93L781.08 559.19L780.44 558.15L779.48 557.80L778.83 557.80M783.98 564.40L783.66 564.75L783.98 565.10L784.30 564.75L783.98 564.40M786.88 559.54L786.88 559.19L787.20 558.50L787.52 558.15L788.17 557.80L789.45 557.80L790.10 558.15L790.42 558.50L790.74 559.19L790.74 559.89L790.42 560.58L789.77 561.62L786.56 565.10L791.06 565.10M796.86 557.80L793.64 557.80L793.32 560.93L793.64 560.58L794.60 560.23L795.57 560.23L796.53 560.58L797.18 561.28L797.50 562.32L797.50 563.01L797.18 564.06L796.53 564.75L795.57 565.10L794.60 565.10L793.64 564.75L793.32 564.40L792.99 563.71"/>
<path class="l" d="M634.10 615.40L634.10 638.80"/>
<path class="l" d="M643.30 615.40L643.30 638.80"/>
<path class="l" d="M604.10 631.20L657.50 631.20"/>
<path class="a" d="M633.30 631.20L626.40 632.40L626.40 630.00Z"/>
<path class="a" d="M644.10 631.20L651.00 630.00L651.00 632.40Z"/>
<path class="t" d="M584.35 627.60L583.38 627.95L582.73 629.01L582.40 630.77L582.40 631.83L582.73 633.59L583.38 634.65L584.35 635.00L585.00 635.00L585.98 634.65L586.62 633.59L586.95 631.83L586.95 630.77L586.62 629.01L585.98 627.95L585.00 627.60L584.35 627.60M589.55 634.30L589.23 634.65L589.55 635.00L589.88 634.65L589.55 634.30M592.48 629.36L592.48 629.01L592.80 628.30L593.12 627.95L593.77 627.60L595.08 627.60L595.73 627.95L596.05 628.30L596.38 629.01L596.38 629.71L596.05 630.42L595.40 631.48L592.15 635.00L596.70 635.00M602.55 627.60L599.30 627.60L598.98 630.77L599.30 630.42L600.28 630.07L601.25 630.07L602.23 630.42L602.88 631.12L603.20 632.18L603.20 632.89L602.88 633.94L602.23 634.65L601.25 635.00L600.28 635.00L599.30 634.65L598.98 634.30L598.65 633.59"/>
<path class="l" d="M669.90 615.40L669.90 633.40"/>
<path class="l" d="M677.50 615.40L677.50 633.40"/>
<path class="l" d="M656.30 625.80L724.80 625.80"/>
<path class="a" d="M669.10 625.80L662.20 627.00L662.20 624.60Z"/>
<path class="a" d="M678.30 625.80L685.20 624.60L685.20 627.00Z"/>
<path class="t" d="M727.39 622.20L726.39 622.56L725.73 623.65L725.40 625.46L725.40 626.54L725.73 628.35L726.39 629.44L727.39 629.80L728.05 629.80L729.04 629.44L729.71 628.35L730.04 626.54L730.04 625.46L729.71 623.65L729.04 622.56L728.05 622.20L727.39 622.20M732.69 629.08L732.36 629.44L732.69 629.80L733.02 629.44L732.69 629.08M735.67 624.01L735.67 623.65L736.00 622.92L736.33 622.56L736.99 622.20L738.32 622.20L738.98 622.56L739.31 622.92L739.64 623.65L739.64 624.37L739.31 625.10L738.65 626.18L735.34 629.80L739.98 629.80M743.95 622.20L742.96 622.56L742.29 623.65L741.96 625.46L741.96 626.54L742.29 628.35L742.96 629.44L743.95 629.80L744.61 629.80L745.61 629.44L746.27 628.35L746.60 626.54L746.60 625.46L746.27 623.65L745.61 622.56L744.61 622.20L743.95 622.20"/>
<path class="l" d="M629.10 576.90L629.10 656.70"/>
<path class="l" d="M699.80 576.90L699.80 656.70"/>
<path class="l" d="M629.10 648.80L653.20 648.80"/>
<path class="l" d="M675.70 648.80L699.80 648.80"/>
<path class="a" d="M629.90 648.80L637.30 647.60L637.30 650.00Z"/>
<path class="a" d="M699.00 648.80L691.60 650.00L691.60 647.60Z"/>
<path class="t" d="M654.42 646.99L654.42 646.63L654.75 645.91L655.07 645.56L655.72 645.20L657.01 645.20L657.66 645.56L657.98 645.91L658.30 646.63L658.30 647.34L657.98 648.06L657.33 649.13L654.10 652.70L658.63 652.70M661.22 651.99L660.89 652.34L661.22 652.70L661.54 652.34L661.22 651.99M665.74 645.20L664.77 645.56L664.13 646.63L663.80 648.41L663.80 649.49L664.13 651.27L664.77 652.34L665.74 652.70L666.39 652.70L667.36 652.34L668.01 651.27L668.33 649.49L668.33 648.41L668.01 646.63L667.36 645.56L666.39 645.20L665.74 645.20M674.15 645.20L670.92 645.20L670.60 648.41L670.92 648.06L671.89 647.70L672.86 647.70L673.83 648.06L674.48 648.77L674.80 649.84L674.80 650.56L674.48 651.63L673.83 652.34L672.86 652.70L671.89 652.70L670.92 652.34L670.60 651.99L670.27 651.27"/>
<path class="l" d="M605.80 666.10L653.20 666.10"/>
<path class="l" d="M675.70 666.10L722.80 666.10"/>
<path class="a" d="M606.60 666.10L614.00 664.90L614.00 667.30Z"/>
<path class="a" d="M722.00 666.10L714.60 667.30L714.60 664.90Z"/>
<path class="t" d="M654.75 662.50L658.30 662.50L656.36 665.32L657.33 665.32L657.98 665.67L658.30 666.02L658.63 667.08L658.63 667.79L658.30 668.84L657.66 669.55L656.69 669.90L655.72 669.90L654.75 669.55L654.42 669.20L654.10 668.49M661.22 669.20L660.89 669.55L661.22 669.90L661.54 669.55L661.22 669.20M667.04 662.50L663.80 667.43L668.65 667.43M667.04 662.50L667.04 669.90M672.21 662.50L671.24 662.85L670.60 663.91L670.27 665.67L670.27 666.73L670.60 668.49L671.24 669.55L672.21 669.90L672.86 669.90L673.83 669.55L674.48 668.49L674.80 666.73L674.80 665.67L674.48 663.91L673.83 662.85L672.86 662.50L672.21 662.50"/>
<rect x="823.6" y="448.2" width="1.1" height="1.1" fill="#9a9a9a"/>
<rect x="823.6" y="493.2" width="1.1" height="1.1" fill="#ecc9a0"/>
<rect x="823.6" y="486.8" width="1.0" height="1.0" fill="#f6e6cf"/>
<rect x="823.6" y="522.7" width="1.1" height="1.1" fill="#f2dcbd"/>
<rect x="823.6" y="553.8" width="1.1" height="1.5" fill="#d3a273"/>
</g>
<text class="v" x="225.0" y="340.0" textLength="67.5" lengthAdjust="spacingAndGlyphs">TOP VIEW</text>
<text class="v" x="599.2" y="340.0" textLength="98.5" lengthAdjust="spacingAndGlyphs">BOTTOM VIEW</text>
<text class="v" x="223.0" y="699.2" textLength="71.8" lengthAdjust="spacingAndGlyphs">SIDE VIEW</text>
<text class="v" x="538.5" y="701.1" textLength="221.2" lengthAdjust="spacingAndGlyphs">RECOMMENDED LAND PATTERN</text>
<text class="cap" x="289.2" y="776.6" textLength="329.6" lengthAdjust="spacingAndGlyphs">QFN-20L (3.5*4.5) Package Outline Dimensions</text>
</svg>
</body></html>
